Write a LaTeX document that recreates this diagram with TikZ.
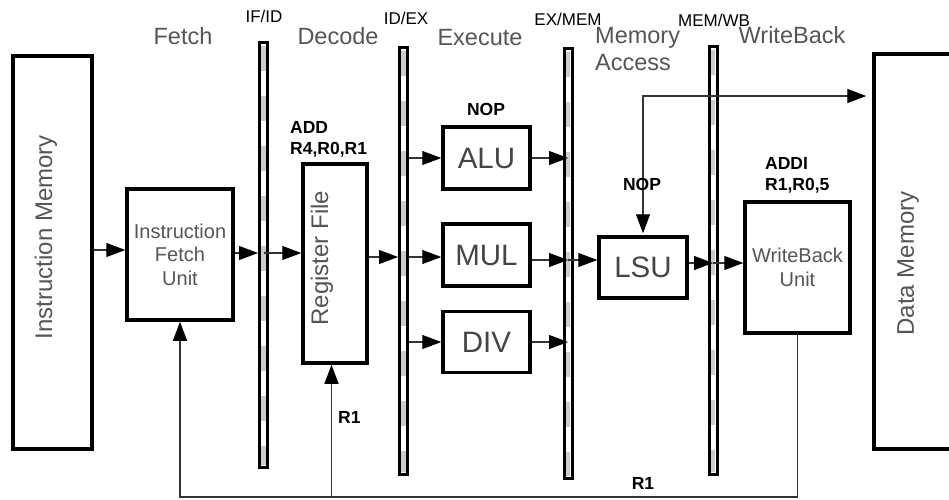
\documentclass[tikz,border=0pt]{standalone}
\usepackage{fontspec}
\setmainfont{Liberation Sans}
\usetikzlibrary{arrows.meta}
\definecolor{txtgray}{HTML}{555555}
\definecolor{biggray}{HTML}{454545}
\begin{document}
\begin{tikzpicture}[x=1pt,y=-1pt,
  box/.style={draw=black, line width=3.5pt, fill=white, inner sep=0pt, text=txtgray, align=center},
  bigbox/.style={box, text=biggray, font=\fontsize{29.5}{32}\selectfont},
  midbox/.style={box, font=\fontsize{20}{23.5}\selectfont},
  rottxt/.style={rotate=90, text=txtgray, inner sep=0pt, font=\fontsize{24}{28}\selectfont},
  regbar/.style={draw=black, line width=3pt, fill=white, minimum width=8pt, inner sep=0pt},
  regdash/.style={draw=black!20, line width=4.5pt, dash pattern=on 25pt off 25pt},
  stage/.style={text=txtgray, font=\fontsize{23.5}{27}\selectfont, inner sep=0pt},
  reglbl/.style={font=\fontsize{17}{20}\selectfont, inner sep=0pt},
  instr/.style={font=\bfseries\fontsize{17.5}{21.5}\selectfont, inner sep=0pt, align=left},
  conn/.style={draw=black!80, line width=1.1pt},
  arr/.style={conn, -{Triangle[length=19pt,width=14pt,color=black]}},
  biarr/.style={conn, {Triangle[length=19pt,width=14pt,color=black]}-{Triangle[length=19pt,width=14pt,color=black]}, shorten >=6pt, shorten <=2pt}
]
\useasboundingbox (0,0) rectangle (949,499);
\clip (0,0) rectangle (949,499);

% boxes
\node[box, minimum width=79pt, minimum height=393pt] (IM) at (52.5,252.5) {};
\node[midbox, minimum width=106pt, minimum height=131pt] (FU) at (180,254.5) {Instruction\\Fetch\\Unit};
\node[box, minimum width=64pt, minimum height=199pt] (RF) at (335,263.5) {};
\node[bigbox, minimum width=87pt, minimum height=62pt] (ALU) at (486.5,158) {ALU};
\node[bigbox, minimum width=87pt, minimum height=62pt] (MUL) at (486.5,255) {MUL};
\node[bigbox, minimum width=87pt, minimum height=61pt] (DIV) at (486.5,342) {DIV};
\node[bigbox, minimum width=88pt, minimum height=61pt] (LSU) at (643,267.5) {LSU};
\node[midbox, minimum width=105pt, minimum height=131pt] (WB) at (797.5,267.5) {WriteBack\\Unit};
\node[box, minimum width=150pt, minimum height=395pt] (DM) at (949,251.5) {};

% rotated texts
\node[rottxt] (IMt) at (46,237) {Instruction Memory};
\node[rottxt] (RFt) at (322,258) {Register File};
\node[rottxt] (DMt) at (908,263.5) {Data Memory};

% pipeline registers
\node[regbar, minimum height=425pt] (ifid) at (263.5,254.5) {};
\node[regbar, minimum height=427pt] (idex) at (403.5,260.5) {};
\node[regbar, minimum height=430pt] (exmem) at (568,263) {};
\node[regbar, minimum height=428pt] (memwb) at (713,260) {};
\foreach \r in {ifid,idex,exmem,memwb}{
  \draw[regdash] ([yshift=-5pt]\r.north) -- ([yshift=4pt]\r.south);
}

% rows
\coordinate (rA) at (0,250);
\coordinate (rB) at (0,253);
\coordinate (rC) at (0,257);
\coordinate (rD) at (0,260);
\coordinate (rE) at (0,263);
\coordinate (rTop) at (0,96);
\coordinate (rBus) at (0,497);
\coordinate (rfin) at ([xshift=-3.5pt]RF.south);

% connectors
\draw[arr] (IM.east |- rA) -- (FU.west |- rA);
\draw[arr] (FU.east |- rB) -- (ifid.west |- rB);
\draw[arr] (ifid.center |- rB) -- (RF.west |- rB);
\draw[arr] (RF.east |- rC) -- (idex.west |- rC);
\draw[arr] (idex.east |- ALU.west) -- (ALU.west);
\draw[arr] (idex.east |- rC) -- (MUL.west |- rC);
\draw[arr] (idex.east |- DIV.west) -- (DIV.west);
\draw[arr] (ALU.east) -- (exmem.center |- ALU.east);
\draw[arr] (MUL.east |- rD) -- (exmem.center |- rD);
\draw[arr] (DIV.east) -- (exmem.center |- DIV.east);
\draw[arr] (exmem.center |- rD) -- (LSU.west |- rD);
\draw[arr] (LSU.east |- rE) -- (memwb.center |- rE);
\draw[arr] (memwb.center |- rE) -- (WB.west |- rE);
\draw[biarr] (LSU.north) |- (DM.west |- rTop);
\draw[arr] (WB.south) |- (FU.south |- rBus) -- (FU.south);
\draw[arr] (rfin |- rBus) -- (rfin);

% stage labels
\node[stage, anchor=base] (sF) at (183,44) {Fetch};
\node[stage, anchor=base] (sD) at (338,44) {Decode};
\node[stage, anchor=base] (sE) at (480,45) {Execute};
\node[stage, anchor=north west, align=left] (sM) at (595,27) {Memory\\Access};
\node[stage, anchor=base] (sW) at (792,43) {WriteBack};

% register labels
\node[reglbl, anchor=base] (lIFID) at (264,22.5) {IF/ID};
\node[reglbl, anchor=base] (lIDEX) at (406,24) {ID/EX};
\node[reglbl, anchor=base] (lEXMEM) at (568,25) {EX/MEM};
\node[reglbl, anchor=base] (lMEMWB) at (714,26) {MEM/WB};

% instruction labels
\node[instr, anchor=north west] (iADD) at (290,121) {ADD\\R4,R0,R1};
\node[instr, anchor=base] (iNOP1) at (486,115) {NOP};
\node[instr, anchor=base] (iNOP2) at (642,190) {NOP};
\node[instr, anchor=north west] (iADDI) at (765,157) {ADDI\\R1,R0,5};
\node[instr, anchor=base west] (iR1a) at (338,423) {R1};
\node[instr, anchor=base] (iR1b) at (643,489) {R1};
\end{tikzpicture}
\end{document}
